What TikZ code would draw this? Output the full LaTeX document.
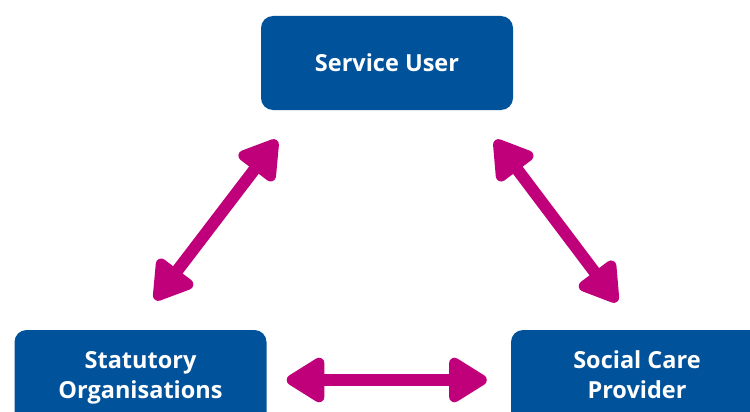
\documentclass[tikz,border=0pt]{standalone}
\usepackage{fontspec}
\setmainfont{Open Sans}
\usetikzlibrary{positioning}
\usetikzlibrary{calc}
\usetikzlibrary{arrows.meta}
\definecolor{boxblue}{RGB}{0,82,155}
\definecolor{linkpink}{RGB}{192,0,122}
\newcommand{\twolines}[2]{\raisebox{4pt}{\begin{tabular}{@{}c@{}}#1\\#2\end{tabular}}}
\tikzset{%
  party/.style = {rectangle,rounded corners=12pt,fill=boxblue,text=white,
        font=\fontsize{23.5}{30}\selectfont\bfseries,align=center,
        minimum width=252pt,minimum height=94pt,inner sep=0pt},
  link/.style = {{Triangle[length=43pt,width=50pt,round]}-{Triangle[length=43pt,width=50pt,round]},
        line width=12pt,draw=linkpink,fill=linkpink}
}

\begin{document}
\begin{tikzpicture}[x=1pt,y=-1pt]
\useasboundingbox (0,0) rectangle (750,412);
\clip (0,0) rectangle (750,412);
\node[party] (su) at (387,63) {Service User};
\node[party] (so) at (140.5,377) {\twolines{Statutory}{Organisations}};
\node[party] (scp) at (637,377) {\twolines{Social Care}{Provider}};
% ends of the links
\coordinate (su-l) at ($(su.south west)+(16,30)$);
\coordinate (su-r) at ($(su.south east)+(-18,30)$);
\coordinate (so-t) at ($(so.north)+(14.5,-30)$);
\coordinate (so-r) at ($(so.east)+(20,3)$);
\coordinate (scp-t) at ($(scp.north)+(-20,-28)$);
\coordinate (scp-l) at ($(scp.west)+(-24,3)$);
\draw[link] (su-l) -- (so-t);
\draw[link] (su-r) -- (scp-t);
\draw[link] (so-r) -- (scp-l);
\end{tikzpicture}
\end{document}
